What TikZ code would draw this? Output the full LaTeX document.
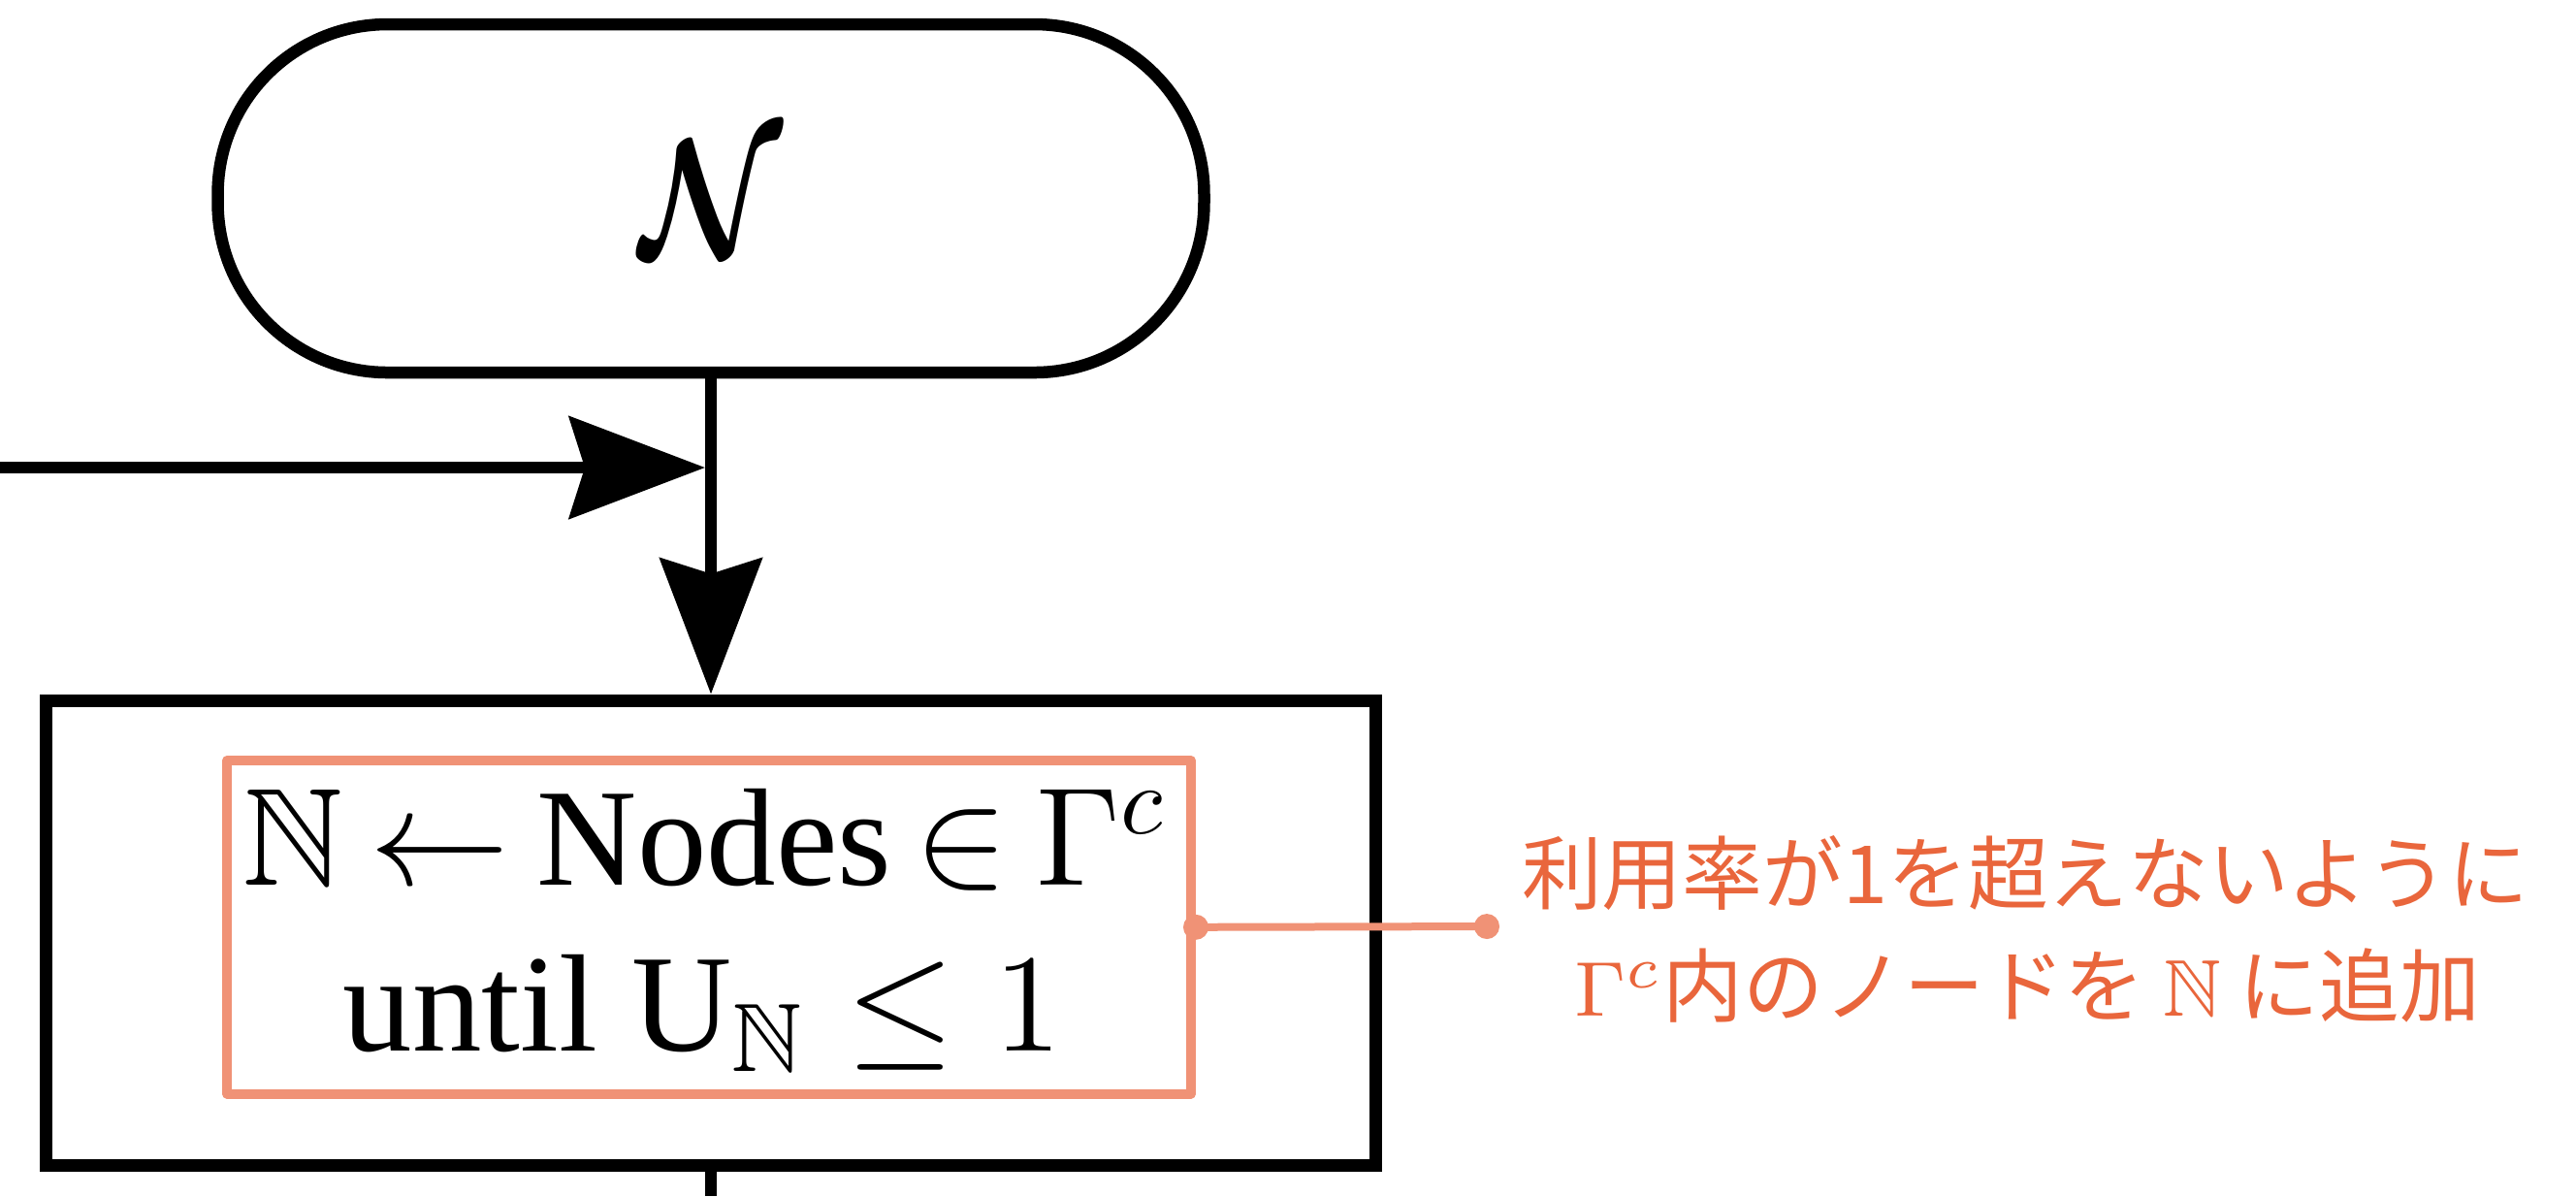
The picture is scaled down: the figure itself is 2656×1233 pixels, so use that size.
\documentclass[tikz,border=0pt]{standalone}
\usepackage{fontspec}
\usepackage{amsmath}
\usepackage{amssymb}
\usepackage{graphicx}
\setmainfont{Liberation Serif}
\newfontfamily\jpfont{Noto Sans CJK JP}
\usetikzlibrary{arrows.meta}
\definecolor{boxorange}{RGB}{240,146,118}
\definecolor{textorange}{RGB}{233,102,60}
\newcommand{\squeeze}[1]{\scalebox{0.78}[1]{#1}}
\newcommand{\tightrel}[1]{\mkern-1.5mu#1\mkern-1.5mu}
\begin{document}
\begin{tikzpicture}[x=0.1pt,y=-0.1pt,
  terminal/.style={draw=black,line width=1.25pt,rounded corners=17.5pt,minimum width=101.7pt,minimum height=35.9pt,inner sep=0pt,font=\fontsize{17.9pt}{20pt}\selectfont},
  procbox/.style={draw=black,line width=1.3pt,minimum width=137.1pt,minimum height=47.9pt,inner sep=0pt},
  notebox/.style={draw=boxorange,line width=1pt,line join=round,minimum width=99.4pt,minimum height=34.35pt,inner sep=0pt},
  mathtext/.style={anchor=base,inner sep=0pt,font=\fontsize{14.3pt}{17pt}\selectfont},
  flow/.style={draw=black,line width=1.2pt},
  bigtip/.style={-{Stealth[length=14pt,width=10.5pt,inset=1.6pt]}},
  noteline/.style={draw=boxorange,line width=0.8pt},
  jptext/.style={text=textorange,anchor=base,inner sep=0pt,font=\jpfont\fontsize{8.28pt}{11pt}\selectfont}]
\useasboundingbox (0,0) rectangle (2656,1233);
\node[terminal] (term) at (733,204.5) {\squeeze{$\boldsymbol{\mathcal{N}}$}};
\node[procbox] (proc) at (733,961.5) {};
\node[notebox] (note) at (731,955.75) {};
\node[mathtext] (line1) at (727,912) {$\mathbb{N}\tightrel{\leftarrow}{}$Nodes $\tightrel{\in}\Gamma^c$};
\node[mathtext] (line2) at (724,1083) {until U$_{\mathbb{N}}\leq 1$};
\coordinate (join) at (727,482);
\coordinate (leftend) at (0,482);
\coordinate (bottomend) at (733,1233);
\draw[flow,bigtip] (leftend) -- (join);
\draw[flow,bigtip] (term.south) -- (proc.north);
\draw[flow] (proc.south) -- (bottomend);
\coordinate (dot) at (1533,955);
\draw[noteline] (note.east) -- (dot);
\fill[boxorange] (note.east) circle (1.3pt);
\fill[boxorange] (dot) circle (1.3pt);
\node[jptext] (jp1) at (2088,931) {利用率が1を超えないように};
\node[jptext] (jp2) at (2090,1047) {$\Gamma^c$内のノードを $\mathbb{N}$ に追加};
\end{tikzpicture}
\end{document}
